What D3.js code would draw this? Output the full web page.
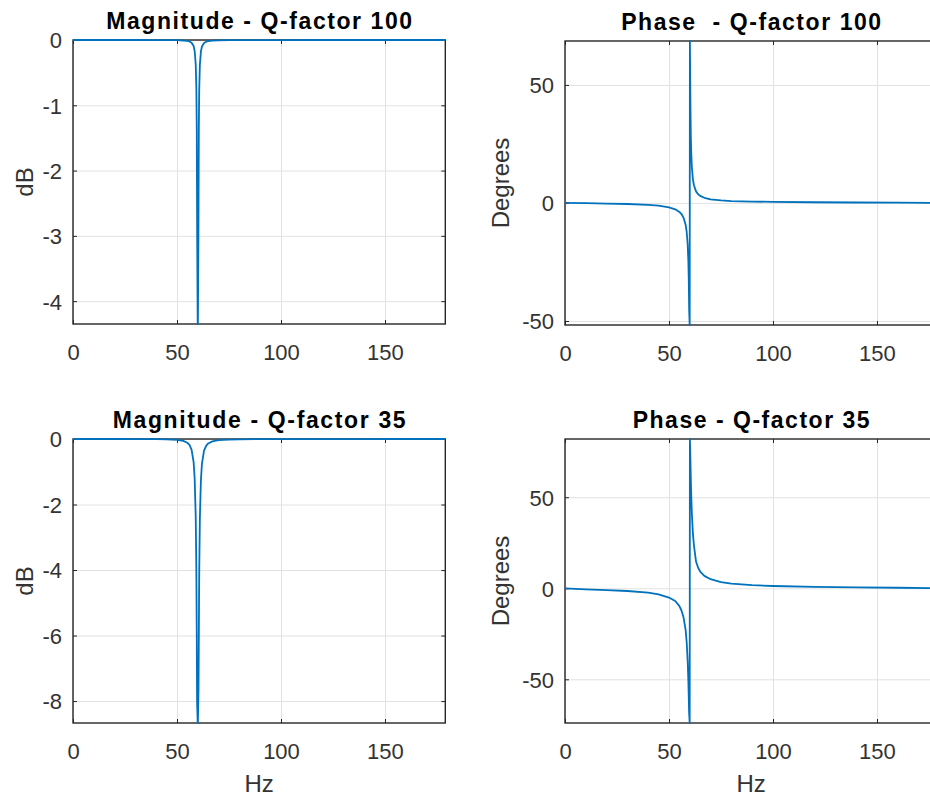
<!DOCTYPE html>
<html>
<head>
<meta charset="utf-8">
<script src="https://cdn.jsdelivr.net/npm/d3@7/dist/d3.min.js"></script>
<style>
  body { margin: 0; background: #fff; }
  svg { display: block; }
  .title { white-space: pre; }
</style>
</head>
<body>
<svg id="chart" width="930" height="797"></svg>
<script>
// ---------- data ----------
const freqQ100 = [0, 10, 20, 30, 40, 45, 50, 53, 55, 56, 57, 58, 58.5, 59, 59.3, 59.5, 59.7, 59.95,
  60.05, 60.3, 60.5, 60.7, 61, 61.5, 62, 63, 64, 65, 67, 70, 75, 80, 90, 100, 120, 140, 160, 179];
const magQ100 = [0, 0, 0, 0, -0.001, -0.002, -0.003, -0.008, -0.014, -0.022, -0.041, -0.093, -0.168,
  -0.368, -0.725, -1.33, -2.99, -4.35, -4.35, -3.02, -1.345, -0.74, -0.38, -0.174, -0.1, -0.045,
  -0.026, -0.017, -0.009, -0.0045, -0.002, -0.0013, -0.0006, -0.0004, -0.0002, -0.0001, 0, 0];
const phaseQ100 = [0, -0.1, -0.25, -0.45, -0.8, -1.15, -1.85, -2.7, -3.8, -4.7, -6.3, -9.2, -12.2,
  -17.8, -24.5, -32, -45.5, -51.7, 68.6, 42, 28.5, 21, 15, 10, 7.5, 4.9, 3.7, 3.0, 2.2, 1.5, 1.05,
  0.8, 0.6, 0.45, 0.3, 0.2, 0.12, 0];

const freqQ35 = [0, 10, 20, 30, 40, 45, 50, 53, 55, 56, 57, 58, 58.5, 59, 59.3, 59.5, 59.65, 59.95,
  60.05, 60.35, 60.5, 60.7, 61, 61.5, 62, 63, 64, 65, 67, 70, 75, 80, 90, 100, 120, 140, 160, 179];
const magQ35 = [0, -0.0001, -0.0004, -0.0016, -0.005, -0.011, -0.026, -0.057, -0.115, -0.182, -0.324,
  -0.71, -1.21, -2.36, -3.95, -5.93, -8.0, -8.67, -8.67, -7.6, -5.98, -4.0, -2.42, -1.254, -0.753,
  -0.357, -0.207, -0.136, -0.072, -0.037, -0.018, -0.0104, -0.005, -0.0031, -0.0013, -0.0008, -0.0004, 0];
const phaseQ35 = [0, -0.6, -1.0, -1.5, -2.4, -3.3, -5.1, -7.0, -9.8, -12.2, -16, -23, -29.6, -40.4,
  -50.6, -59.6, -67.8, -74, 82, 67.8, 59.8, 50.9, 40.8, 30.0, 23.5, 14.7, 11.3, 9.2, 6.8, 5.0, 3.4,
  2.6, 1.7, 1.25, 0.8, 0.55, 0.3, 0];

const xTicks = [0, 50, 100, 150];
const magTicksQ100 = [0, -1, -2, -3, -4];
const magTicksQ35 = [0, -2, -4, -6, -8];
const phaseTicks = [-50, 0, 50];

const titles = ["Magnitude - Q-factor 100", "Phase  - Q-factor 100",
                "Magnitude - Q-factor 35", "Phase - Q-factor 35"];
const yLabels = ["dB", "Degrees", "dB", "Degrees"];
const xLabel = "Hz";

// ---------- layout ----------
const FONT = "'Liberation Sans', Arial, Helvetica, sans-serif";
const LINE = "#0072BD";
const AX = "#262626";
const GRID = "#e2e2e2";
const xDomain = [0, 179];
const plotW = 372.3;

const panels = [
  { left: 73,  top: 40,  bottom: 324, ydom: [-4.35, 0],   yticks: magTicksQ100, f: freqQ100, v: magQ100,
    title: titles[0], titleW: 306, ylab: yLabels[0], ylabX: 33, xlab: false },
  { left: 565, top: 41,  bottom: 325, ydom: [-51.7, 68.6], yticks: phaseTicks, f: freqQ100, v: phaseQ100,
    title: titles[1], titleW: 260, ylab: yLabels[1], ylabX: 509, xlab: false },
  { left: 73,  top: 439, bottom: 723, ydom: [-8.67, 0],   yticks: magTicksQ35, f: freqQ35, v: magQ35,
    title: titles[2], titleW: 293, ylab: yLabels[2], ylabX: 33, xlab: true },
  { left: 565, top: 439, bottom: 723, ydom: [-74, 82],    yticks: phaseTicks, f: freqQ35, v: phaseQ35,
    title: titles[3], titleW: 237, ylab: yLabels[3], ylabX: 509, xlab: true }
];

const svg = d3.select("#chart");

function styleAxisText(g, size) {
  g.attr("font-family", FONT).attr("font-size", size);
  g.selectAll("text").attr("fill", "#333");
}

panels.forEach(p => {
  const x = d3.scaleLinear().domain(xDomain).range([p.left, p.left + plotW]);
  const y = d3.scaleLinear().domain(p.ydom).range([p.bottom, p.top]);
  const h = p.bottom - p.top;
  const g = svg.append("g");

  // grid
  const gx = g.append("g").attr("transform", `translate(0,${p.bottom})`)
    .call(d3.axisBottom(x).tickValues(xTicks).tickSize(-h).tickFormat(""));
  gx.select(".domain").remove();
  gx.selectAll("line").attr("stroke", GRID).attr("stroke-width", 1);
  const gy = g.append("g").attr("transform", `translate(${p.left},0)`)
    .call(d3.axisLeft(y).tickValues(p.yticks).tickSize(-plotW).tickFormat(""));
  gy.select(".domain").remove();
  gy.selectAll("line").attr("stroke", GRID).attr("stroke-width", 1);

  // box
  g.append("rect").attr("x", p.left).attr("y", p.top).attr("width", plotW).attr("height", h)
    .attr("fill", "none").attr("stroke", AX).attr("stroke-width", 1.4);

  // inward ticks on all sides + labels
  const ab = g.append("g").attr("transform", `translate(0,${p.bottom})`)
    .call(d3.axisBottom(x).tickValues(xTicks).tickSizeInner(-4).tickSizeOuter(0)
      .tickPadding(20).tickFormat(d => String(d)));
  ab.select(".domain").remove();
  ab.selectAll("line").attr("stroke", AX);
  styleAxisText(ab, 22);

  const at = g.append("g").attr("transform", `translate(0,${p.top})`)
    .call(d3.axisTop(x).tickValues(xTicks).tickSizeInner(-4).tickSizeOuter(0).tickFormat(""));
  at.select(".domain").remove();
  at.selectAll("line").attr("stroke", AX);

  const al = g.append("g").attr("transform", `translate(${p.left},0)`)
    .call(d3.axisLeft(y).tickValues(p.yticks).tickSizeInner(-4).tickSizeOuter(0)
      .tickPadding(11).tickFormat(d => String(d)));
  al.select(".domain").remove();
  al.selectAll("line").attr("stroke", AX);
  styleAxisText(al, 22);
  al.selectAll("text").attr("dy", "0.36em");

  const ar = g.append("g").attr("transform", `translate(${p.left + plotW},0)`)
    .call(d3.axisRight(y).tickValues(p.yticks).tickSizeInner(-4).tickSizeOuter(0).tickFormat(""));
  ar.select(".domain").remove();
  ar.selectAll("line").attr("stroke", AX);

  // curve
  const pts = p.f.map((f, i) => [f, p.v[i]]);
  g.append("path").datum(pts)
    .attr("fill", "none").attr("stroke", LINE).attr("stroke-width", 1.8)
    .attr("stroke-linejoin", "round")
    .attr("d", d3.line().x(d => x(d[0])).y(d => y(d[1])));

  // title
  g.append("text").attr("class", "title")
    .attr("x", p.left + plotW / 2).attr("y", p.top - 11)
    .attr("text-anchor", "middle").attr("font-family", FONT).attr("font-weight", "bold")
    .attr("font-size", 23).attr("fill", "#000")
    .attr("textLength", p.titleW).attr("lengthAdjust", "spacing")
    .text(p.title);

  // y label
  const cy = (p.top + p.bottom) / 2;
  g.append("text").attr("transform", `translate(${p.ylabX},${cy}) rotate(-90)`)
    .attr("text-anchor", "middle").attr("font-family", FONT).attr("font-size", 24)
    .attr("fill", "#333").text(p.ylab);

  // x label
  if (p.xlab) {
    g.append("text").attr("x", p.left + plotW / 2).attr("y", p.bottom + 69)
      .attr("text-anchor", "middle").attr("font-family", FONT).attr("font-size", 24)
      .attr("fill", "#333").text(xLabel);
  }
});
</script>
</body>
</html>
